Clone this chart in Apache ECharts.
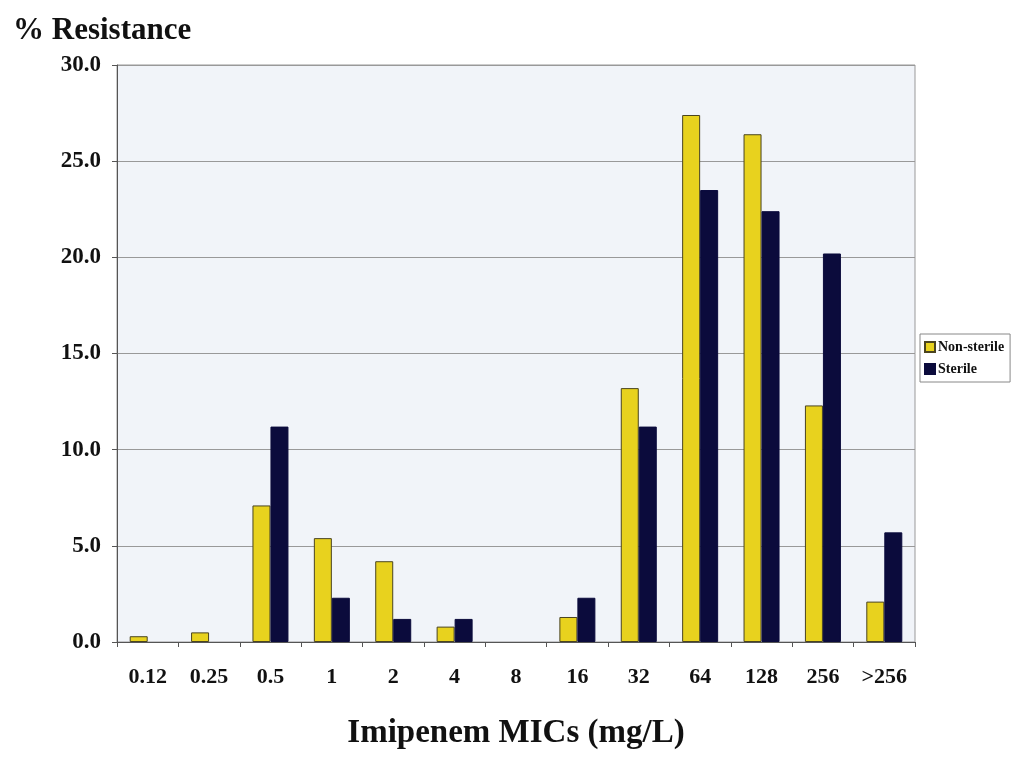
<!DOCTYPE html>
<html lang="en">
<head>
  <meta charset="UTF-8">
  <title>Imipenem MICs</title>
  <style>
    body { margin: 0; background: #fff; }
    #chart { width: 1035px; height: 771px; }
  </style>
</head>
<body>
  <div id="chart"></div>
  <script src="https://cdn.jsdelivr.net/npm/echarts@6/dist/echarts.min.js"></script>
  <script>
    // MIC categories and % resistance per group
    const categories = ['0.12', '0.25', '0.5', '1', '2', '4', '8', '16', '32', '64', '128', '256', '>256'];
    const nonSterile = [0.3, 0.5, 7.1, 5.4, 4.2, 0.8, 0, 1.3, 13.2, 27.4, 26.4, 12.3, 2.1];
    const sterile = [0, 0, 11.2, 2.3, 1.2, 1.2, 0, 2.3, 11.2, 23.5, 22.4, 20.2, 5.7];

    const font = '"Liberation Serif", "Times New Roman", serif';
    // zero values draw no bar at all (otherwise the border shows as a line)
    const hideZero = arr => arr.map(v => (v === 0 ? '-' : v));

    const chart = echarts.init(document.getElementById('chart'));
    chart.setOption({
      animation: false,
      textStyle: { fontFamily: font },
      title: {
        text: '% Resistance',
        left: 8,
        top: 10,
        textStyle: { fontFamily: font, fontSize: 31, fontWeight: 'bold', color: '#111' }
      },
      legend: {
        orient: 'vertical',
        left: 920,
        top: 334,
        icon: 'rect',
        itemWidth: 10,
        itemHeight: 10,
        itemGap: 8,
        padding: [6, 6, 6, 4],
        borderColor: '#888',
        borderWidth: 1,
        textStyle: { fontFamily: font, fontSize: 14, fontWeight: 'bold', color: '#111', padding: [0, 0, 0, -2] },
        data: ['Non-sterile', 'Sterile']
      },
      grid: {
        left: 117,
        top: 65,
        right: 120,
        bottom: 129,
        show: true,
        backgroundColor: '#f1f4f9',
        borderColor: '#999',
        borderWidth: 1
      },
      xAxis: {
        type: 'category',
        data: categories,
        name: 'Imipenem MICs (mg/L)',
        nameLocation: 'middle',
        nameGap: 75,
        nameTextStyle: { fontFamily: font, fontSize: 33, fontWeight: 'bold', color: '#111', verticalAlign: 'top' },
        axisLine: { lineStyle: { color: '#555' } },
        axisTick: { show: true, interval: 0, length: 5, lineStyle: { color: '#555' } },
        axisLabel: { interval: 0, margin: 24, fontFamily: font, fontSize: 22, fontWeight: 'bold', color: '#111' }
      },
      yAxis: {
        type: 'value',
        min: 0,
        max: 30,
        interval: 5,
        axisLine: { show: true, lineStyle: { color: '#555' } },
        axisTick: { show: true, length: 5, lineStyle: { color: '#555' } },
        splitLine: { lineStyle: { color: '#999' } },
        axisLabel: {
          margin: 16,
          fontFamily: font, fontSize: 23, fontWeight: 'bold', color: '#111',
          formatter: v => v.toFixed(1)
        }
      },
      series: [
        {
          name: 'Non-sterile',
          type: 'bar',
          data: hideZero(nonSterile),
          barWidth: 18,
          barGap: '0%',
          itemStyle: { color: '#e8d21e', borderColor: '#4a4420', borderWidth: 1 }
        },
        {
          name: 'Sterile',
          type: 'bar',
          data: hideZero(sterile),
          barWidth: 18,
          itemStyle: { color: '#0b0b3c', borderColor: '#0b0b3c', borderWidth: 1 }
        }
      ]
    });
  </script>
</body>
</html>
